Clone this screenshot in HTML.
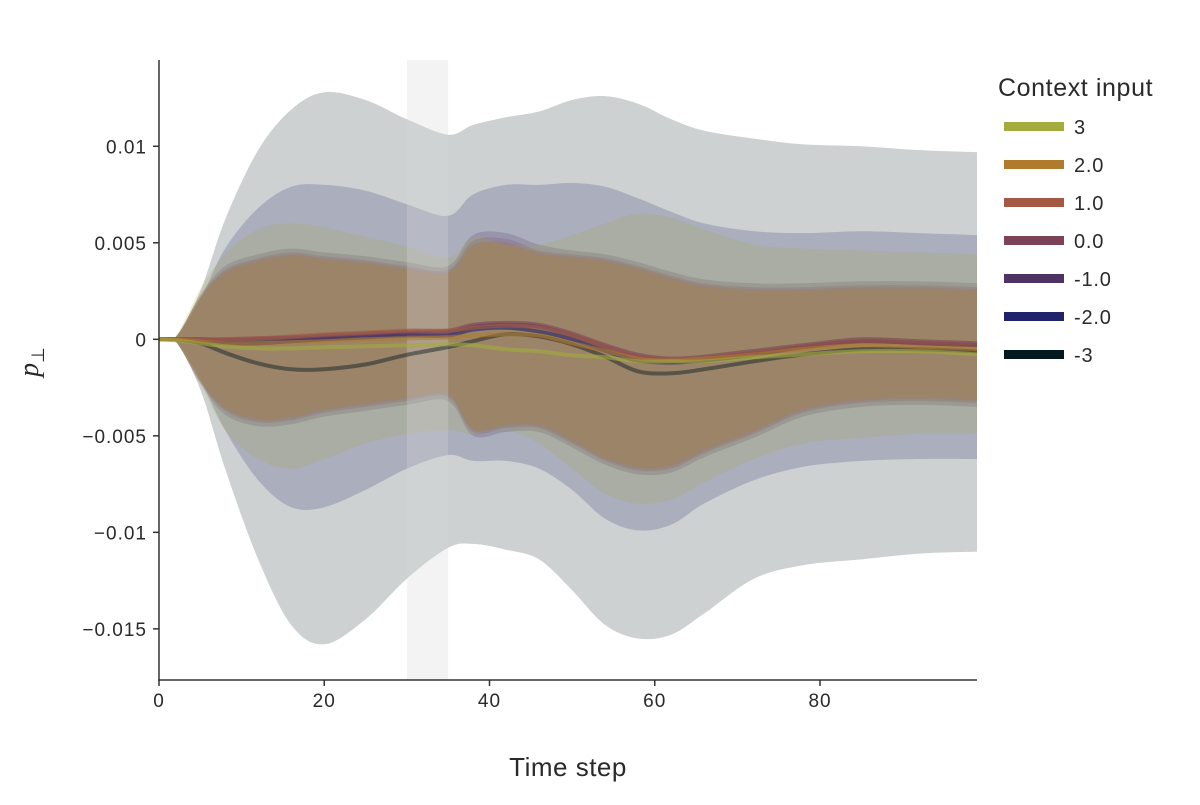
<!DOCTYPE html>
<html><head><meta charset="utf-8"><style>
body{margin:0;background:#fff}
svg text{font-family:"Liberation Sans",sans-serif;fill:#2a2a2a}
</style></head><body>
<svg id="chart" width="1200" height="800" viewBox="0 0 1200 800" xmlns="http://www.w3.org/2000/svg">
<g id="bands"></g>
<rect id="shade"></rect>
<g id="lines"></g>
<g id="axes"></g>
<g id="legend"></g>
</svg>
<script>
const timeSteps=[0,2,5,8,12,16,20,25,30,35,38,42,46,50,54,58,62,66,72,78,85,92,99];
const seriesNames=["3","2.0","1.0","0.0","-1.0","-2.0","-3"];
const seriesColors=["#a3ac3c","#b07c2c","#a45a42","#7c4258","#4e3264","#20226a","#041820"];
// values in units of 1e-3
const upper3=[0,0.15,2.6,4.4,5.7,6.0,5.8,5.3,4.8,4.2,5.3,4.9,4.9,5.4,6.0,6.5,6.3,5.7,4.9,4.7,4.6,4.5,4.4];
const lower3=[0,-0.15,-2.3,-4.7,-6.2,-6.7,-6.2,-5.4,-4.9,-4.7,-4.9,-4.7,-5.4,-6.7,-8.0,-8.5,-8.3,-7.4,-6.2,-5.4,-5.1,-4.9,-4.9];
const mean3=[0,-0.05,-0.2,-0.36,-0.47,-0.47,-0.41,-0.36,-0.31,-0.26,-0.31,-0.52,-0.62,-0.83,-0.93,-1.14,-1.14,-1.14,-0.93,-0.78,-0.62,-0.62,-0.78];
const upper2=[0,0.1,2.1,3.4,4.0,4.3,4.1,3.9,3.6,3.4,4.8,4.9,4.4,4.2,4.0,3.6,3.1,2.7,2.5,2.5,2.6,2.6,2.5];
const lower2=[0,-0.1,-2.1,-3.5,-4.1,-4.0,-3.6,-3.3,-3.0,-2.8,-4.6,-4.4,-4.4,-5.2,-6.1,-6.6,-6.5,-5.7,-4.7,-3.6,-3.1,-3.0,-3.1];
const mean2=[0,0,-0.1,-0.2,-0.2,-0.15,-0.1,0,0.05,0.1,0.2,0.25,0.2,-0.2,-0.6,-1.0,-1.1,-1.0,-0.8,-0.5,-0.3,-0.4,-0.5];
const upper1=[0,0.1,2.2,3.5,4.1,4.4,4.2,4.0,3.7,3.5,4.9,5.0,4.5,4.3,4.1,3.7,3.2,2.8,2.6,2.6,2.7,2.7,2.6];
const lower1=[0,-0.1,-2.2,-3.6,-4.2,-4.1,-3.7,-3.4,-3.1,-2.9,-4.7,-4.5,-4.5,-5.3,-6.2,-6.7,-6.6,-5.8,-4.8,-3.7,-3.2,-3.1,-3.2];
const mean1=[0,0,0,0,0.05,0.15,0.25,0.35,0.45,0.45,0.6,0.7,0.6,0.2,-0.4,-0.9,-1.1,-1.0,-0.7,-0.4,-0.1,-0.2,-0.3];
const upper0=[0,0.1,2.2,3.6,4.2,4.5,4.3,4.1,3.8,3.6,5.1,5.2,4.6,4.4,4.2,3.8,3.3,2.9,2.7,2.7,2.8,2.8,2.7];
const lower0=[0,-0.1,-2.2,-3.7,-4.3,-4.2,-3.8,-3.5,-3.2,-3.0,-4.8,-4.6,-4.6,-5.4,-6.3,-6.8,-6.7,-5.9,-4.9,-3.8,-3.3,-3.2,-3.3];
const mean0=[0,0,0,0,0.05,0.1,0.2,0.3,0.4,0.45,0.75,0.85,0.75,0.3,-0.3,-0.8,-1.0,-0.9,-0.6,-0.3,0,-0.1,-0.2];
const upperM1=[0,0.1,2.3,3.8,4.4,4.7,4.5,4.3,4.0,3.8,5.4,5.5,4.9,4.6,4.4,4.0,3.5,3.1,2.9,2.9,3.0,3.0,2.9];
const lowerM1=[0,-0.1,-2.3,-3.9,-4.5,-4.4,-4.0,-3.7,-3.4,-3.2,-5.0,-4.8,-4.8,-5.6,-6.5,-7.0,-6.9,-6.1,-5.1,-4.0,-3.5,-3.4,-3.5];
const meanM1=[0,0,0,-0.05,0,0.05,0.1,0.2,0.3,0.35,0.65,0.75,0.65,0.2,-0.4,-0.9,-1.1,-1.0,-0.7,-0.4,-0.1,-0.2,-0.3];
const upperM2=[0,0.1,2.1,4.7,6.8,7.9,8.0,7.7,7.0,6.4,7.5,8.0,8.0,8.1,7.9,7.3,6.6,6.0,5.6,5.5,5.6,5.5,5.4];
const lowerM2=[0,-0.1,-2.1,-4.7,-7.3,-8.7,-8.7,-7.8,-6.7,-6.0,-6.3,-6.3,-6.7,-7.8,-9.3,-9.9,-9.6,-8.5,-7.3,-6.6,-6.3,-6.2,-6.2];
const meanM2=[0,0,-0.1,-0.2,-0.2,-0.1,0,0.1,0.2,0.2,0.5,0.6,0.4,0,-0.6,-1.1,-1.2,-1.1,-0.8,-0.4,-0.1,-0.2,-0.3];
const upperM3=[0,0.1,2.5,6.2,9.8,11.9,12.8,12.4,11.4,10.6,11.1,11.5,11.8,12.4,12.6,12.2,11.4,10.8,10.4,10.1,10.0,9.8,9.7];
const lowerM3=[0,-0.1,-2.6,-6.7,-11.4,-14.8,-15.8,-14.5,-12.4,-10.8,-10.6,-10.9,-11.4,-13.0,-14.8,-15.5,-15.3,-14.2,-12.4,-11.7,-11.4,-11.1,-11.0];
const meanM3=[0,0,-0.2,-0.7,-1.25,-1.55,-1.55,-1.3,-0.8,-0.4,-0.1,0.26,0.15,-0.26,-0.9,-1.66,-1.76,-1.55,-1.14,-0.78,-0.52,-0.52,-0.62];
const uppers=[upper3,upper2,upper1,upper0,upperM1,upperM2,upperM3];
const lowers=[lower3,lower2,lower1,lower0,lowerM1,lowerM2,lowerM3];
const means=[mean3,mean2,mean1,mean0,meanM1,meanM2,meanM3];
const xTicks=[0,20,40,60,80];
const yTicks=[0.01,0.005,0,-0.005,-0.01,-0.015];
const yTickLabels=["0.01","0.005","0","−0.005","−0.01","−0.015"];
const shadeRange=[30,35];

const X0=159,X1=977,Y0=60,Y1=680;
const xMin=0,xMax=99,yMin=-0.01765,yMax=0.01447;
const sx=t=>X0+(t-xMin)/(xMax-xMin)*(X1-X0);
const sy=v=>Y1-(v-yMin)/(yMax-yMin)*(Y1-Y0);
const NS="http://www.w3.org/2000/svg";
function mk(tag,attrs,parent){const e=document.createElementNS(NS,tag);for(const k in attrs)e.setAttribute(k,attrs[k]);parent.appendChild(e);return e;}
function smooth(pts,start){let d=start?"M"+pts[0][0]+","+pts[0][1]:"L"+pts[0][0]+","+pts[0][1];
 for(let i=0;i<pts.length-1;i++){const p0=pts[Math.max(0,i-1)],p1=pts[i],p2=pts[i+1],p3=pts[Math.min(pts.length-1,i+2)];
 const c1=[p1[0]+(p2[0]-p0[0])/6,p1[1]+(p2[1]-p0[1])/6],c2=[p2[0]-(p3[0]-p1[0])/6,p2[1]-(p3[1]-p1[1])/6];
 d+=`C${c1[0].toFixed(1)},${c1[1].toFixed(1)} ${c2[0].toFixed(1)},${c2[1].toFixed(1)} ${p2[0].toFixed(1)},${p2[1].toFixed(1)}`;}return d;}
const bandsG=document.getElementById('bands'),linesG=document.getElementById('lines');
for(let s=seriesNames.length-1;s>=0;s--){
 const up=timeSteps.map((t,i)=>[sx(t),sy(uppers[s][i]/1000)]);
 const lo=timeSteps.map((t,i)=>[sx(t),sy(lowers[s][i]/1000)]).reverse();
 const p=mk('path',{d:smooth(up,true)+smooth(lo,false)+"Z",fill:seriesColors[s],'fill-opacity':0.2,stroke:'none'},bandsG);
 
 
}
const sh=document.getElementById('shade');
sh.setAttribute('x',sx(shadeRange[0]));sh.setAttribute('width',sx(shadeRange[1])-sx(shadeRange[0]));
sh.setAttribute('y',Y0);sh.setAttribute('height',Y1-Y0);sh.setAttribute('fill','#d8d8d8');sh.setAttribute('fill-opacity',0.3);
for(let s=seriesNames.length-1;s>=0;s--){
 const pts=timeSteps.map((t,i)=>[sx(t),sy(means[s][i]/1000)]);
 const p=mk('path',{d:smooth(pts,true),fill:'none',stroke:seriesColors[s],'stroke-opacity':s===6?0.45:0.6,'stroke-width':4},linesG);
 
 
}
const ax=document.getElementById('axes');
mk('line',{x1:X0,y1:Y0,x2:X0,y2:Y1+1,stroke:'#333','stroke-width':1.5},ax);
mk('line',{x1:X0-1,y1:Y1,x2:X1,y2:Y1,stroke:'#333','stroke-width':1.5},ax);
xTicks.forEach(t=>{mk('line',{x1:sx(t),y1:Y1,x2:sx(t),y2:Y1+6,stroke:'#333','stroke-width':1.5},ax);
 const tx=mk('text',{x:sx(t),y:Y1+27,'text-anchor':'middle','font-size':19,'letter-spacing':1},ax);tx.textContent=t;
 });
yTicks.forEach((v,i)=>{mk('line',{x1:X0-6,y1:sy(v),x2:X0,y2:sy(v),stroke:'#333','stroke-width':1.5},ax);
 const tx=mk('text',{x:X0-12,y:sy(v)+7,'text-anchor':'end','font-size':19,'letter-spacing':1},ax);tx.textContent=yTickLabels[i];
 });
const xt=mk('text',{x:568,y:776,'text-anchor':'middle','font-size':26,'letter-spacing':0.5},ax);xt.textContent="Time step";

const yt=mk('text',{x:0,y:0,'text-anchor':'middle','font-size':28,transform:'translate(38,362) rotate(-90)',style:'font-family:"Liberation Serif",serif'},ax);
yt.innerHTML='<tspan font-style="italic">p</tspan><tspan font-size="18" dy="6">⊥</tspan>';

const lg=document.getElementById('legend');
const lt=mk('text',{x:998,y:96,'font-size':25,'letter-spacing':0.6},lg);lt.textContent="Context input";

seriesNames.forEach((n,i)=>{const y=126+i*38;
 const g=mk('g',{},lg);
 mk('rect',{x:1004,y:y-4,width:60,height:9,fill:seriesColors[i]},g);
 const t=mk('text',{x:1074,y:y+8,'font-size':20,'letter-spacing':0.8},g);t.textContent=n;});
</script>
</body></html>
